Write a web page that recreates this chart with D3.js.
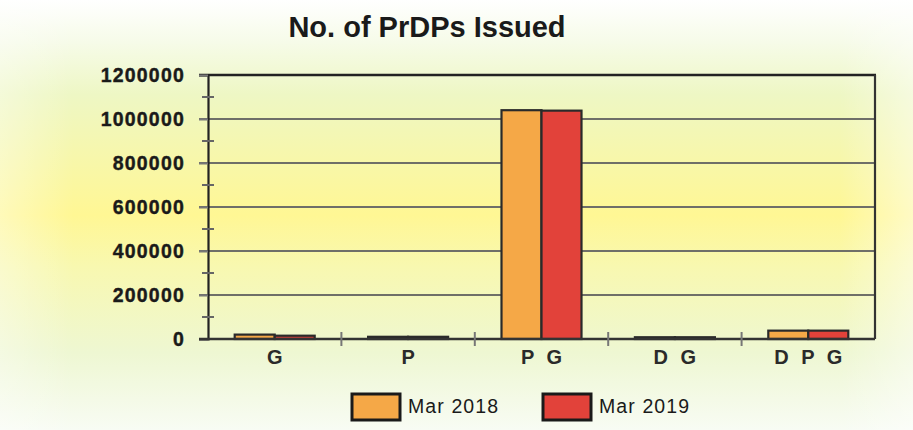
<!DOCTYPE html>
<html><head><meta charset="utf-8">
<script src="https://cdn.jsdelivr.net/npm/d3@7/dist/d3.min.js"></script>
<style>html,body{margin:0;padding:0;background:#fff;}svg{display:block;font-family:"Liberation Sans",Arial,sans-serif;}</style>
</head><body>
<script>
const categories = ["G", "P", "P G", "D G", "D P G"];
const seriesNames = ["Mar 2018", "Mar 2019"];
const mar2018 = [20000, 10000, 1040000, 8000, 38000];
const mar2019 = [15000, 10000, 1038000, 8000, 38000];
const yTicks = [0, 200000, 400000, 600000, 800000, 1000000, 1200000];
const colors = ["#f5a847", "#e2423a"];

(function () {
const W = 913, H = 430;
const svg = d3.select("body").append("svg").attr("width", W).attr("height", H);
const defs = svg.append("defs");
const g1 = defs.append("linearGradient").attr("id", "bg").attr("x1", 0).attr("y1", 0).attr("x2", 0).attr("y2", 1);
[[0, "#ffffff"], [0.1, "#f6fbe8"], [0.22, "#eef7c4"], [0.5, "#fff794"], [0.62, "#f8f8b0"], [0.82, "#eef7d2"], [1, "#f8fcf4"]]
  .forEach(([o, c]) => g1.append("stop").attr("offset", o).attr("stop-color", c));
const g2 = defs.append("linearGradient").attr("id", "side").attr("x1", 0).attr("y1", 0).attr("x2", 1).attr("y2", 0);
[[0, "#ffffff", 0.35], [0.08, "#ffffff", 0], [0.92, "#ffffff", 0], [1, "#ffffff", 0.45]]
  .forEach(([o, c, op]) => g2.append("stop").attr("offset", o).attr("stop-color", c).attr("stop-opacity", op));
svg.append("rect").attr("width", W).attr("height", H).attr("fill", "url(#bg)");
svg.append("rect").attr("width", W).attr("height", H).attr("fill", "url(#side)");

const pLeft = 208, pRight = 875, pTop = 75, pBottom = 339;
const x = d3.scaleBand().domain(categories).range([pLeft, pRight]).padding(0);
const groupW = 80;
const xs = d3.scaleBand().domain(seriesNames).range([(x.bandwidth() - groupW) / 2, (x.bandwidth() + groupW) / 2]).padding(0);
const y = d3.scaleLinear().domain([0, 1200000]).range([pBottom, pTop]);

// title
svg.append("text").attr("x", 427).attr("y", 37).attr("text-anchor", "middle")
  .attr("font-size", 29).attr("font-weight", "bold").attr("fill", "#1a1a1a").text("No. of PrDPs Issued");

// gridlines
svg.append("g").selectAll("line").data(yTicks.filter(d => d > 0 && d < 1200000)).join("line")
  .attr("x1", pLeft - 9).attr("x2", pRight).attr("y1", d => y(d)).attr("y2", d => y(d))
  .attr("stroke", "#6f6f68").attr("stroke-width", 2.2);

// frame top & right
svg.append("line").attr("x1", pLeft - 9).attr("x2", pRight + 1).attr("y1", pTop).attr("y2", pTop).attr("stroke", "#222").attr("stroke-width", 2.5);
svg.append("line").attr("x1", pRight).attr("x2", pRight).attr("y1", pTop).attr("y2", pBottom).attr("stroke", "#333").attr("stroke-width", 2.2);

// y axis
const yAxis = d3.axisLeft(y).tickValues(yTicks).tickSize(9).tickPadding(12).tickFormat(d3.format("d"));
const ya = svg.append("g").attr("transform", `translate(${pLeft},0)`).call(yAxis);
ya.select(".domain").attr("stroke", "#222").attr("stroke-width", 2.2);
ya.selectAll(".tick line").attr("stroke", "#777").attr("stroke-width", 2);
ya.selectAll(".tick text").attr("font-size", 19.5).attr("font-weight", "bold").attr("fill", "#1a1a1a")
  .attr("stroke", "#1a1a1a").attr("stroke-width", 0.4)
  .attr("letter-spacing", 1.2).attr("font-family", "Liberation Sans, Arial, sans-serif").attr("dx", -2);
// minor cross ticks
const minor = d3.range(100000, 1200000, 200000);
svg.append("g").selectAll("line").data(minor).join("line")
  .attr("x1", pLeft - 6).attr("x2", pLeft + 6).attr("y1", d => y(d)).attr("y2", d => y(d))
  .attr("stroke", "#666").attr("stroke-width", 2);

// bars
const grp = svg.append("g").selectAll("g").data(categories).join("g")
  .attr("transform", d => `translate(${x(d)},0)`);
grp.selectAll("rect").data((d, i) => [mar2018[i], mar2019[i]].map((v, j) => ({ v, s: seriesNames[j], j })))
  .join("rect")
  .attr("x", d => xs(d.s)).attr("width", xs.bandwidth())
  .attr("y", d => y(d.v)).attr("height", d => Math.max(1.5, pBottom - y(d.v)))
  .attr("fill", d => colors[d.j]).attr("stroke", "#2a2a2a").attr("stroke-width", 2.2);

// x axis
const xa = svg.append("g").attr("transform", `translate(0,${pBottom})`);
xa.append("line").attr("x1", pLeft - 9).attr("x2", pRight).attr("y1", 0).attr("y2", 0).attr("stroke", "#333").attr("stroke-width", 2.4);
const bounds = categories.map(c => x(c)).slice(1);
xa.selectAll(".xt").data(bounds).join("line").attr("class", "xt")
  .attr("x1", d => d).attr("x2", d => d).attr("y1", -7).attr("y2", 7).attr("stroke", "#777").attr("stroke-width", 2);
xa.selectAll(".xl").data(categories).join("text").attr("class", "xl")
  .attr("x", d => x(d) + x.bandwidth() / 2).attr("y", 25).attr("text-anchor", "middle")
  .attr("font-size", 20).attr("font-weight", "bold").attr("fill", "#2a2a2a")
  .attr("word-spacing", 7).text(d => d);

// legend
const legX = [352, 543];
const leg = svg.append("g").selectAll("g").data(seriesNames).join("g")
  .attr("transform", (d, i) => `translate(${legX[i]},394)`);
leg.append("rect").attr("width", 48).attr("height", 26).attr("fill", (d, i) => colors[i])
  .attr("stroke", "#1a1a1a").attr("stroke-width", 3);
leg.append("text").attr("x", 56).attr("y", 19).attr("font-size", 19.5).attr("letter-spacing", 1.1)
  .attr("fill", "#1a1a1a").text(d => d);
})();
</script>
</body></html>
